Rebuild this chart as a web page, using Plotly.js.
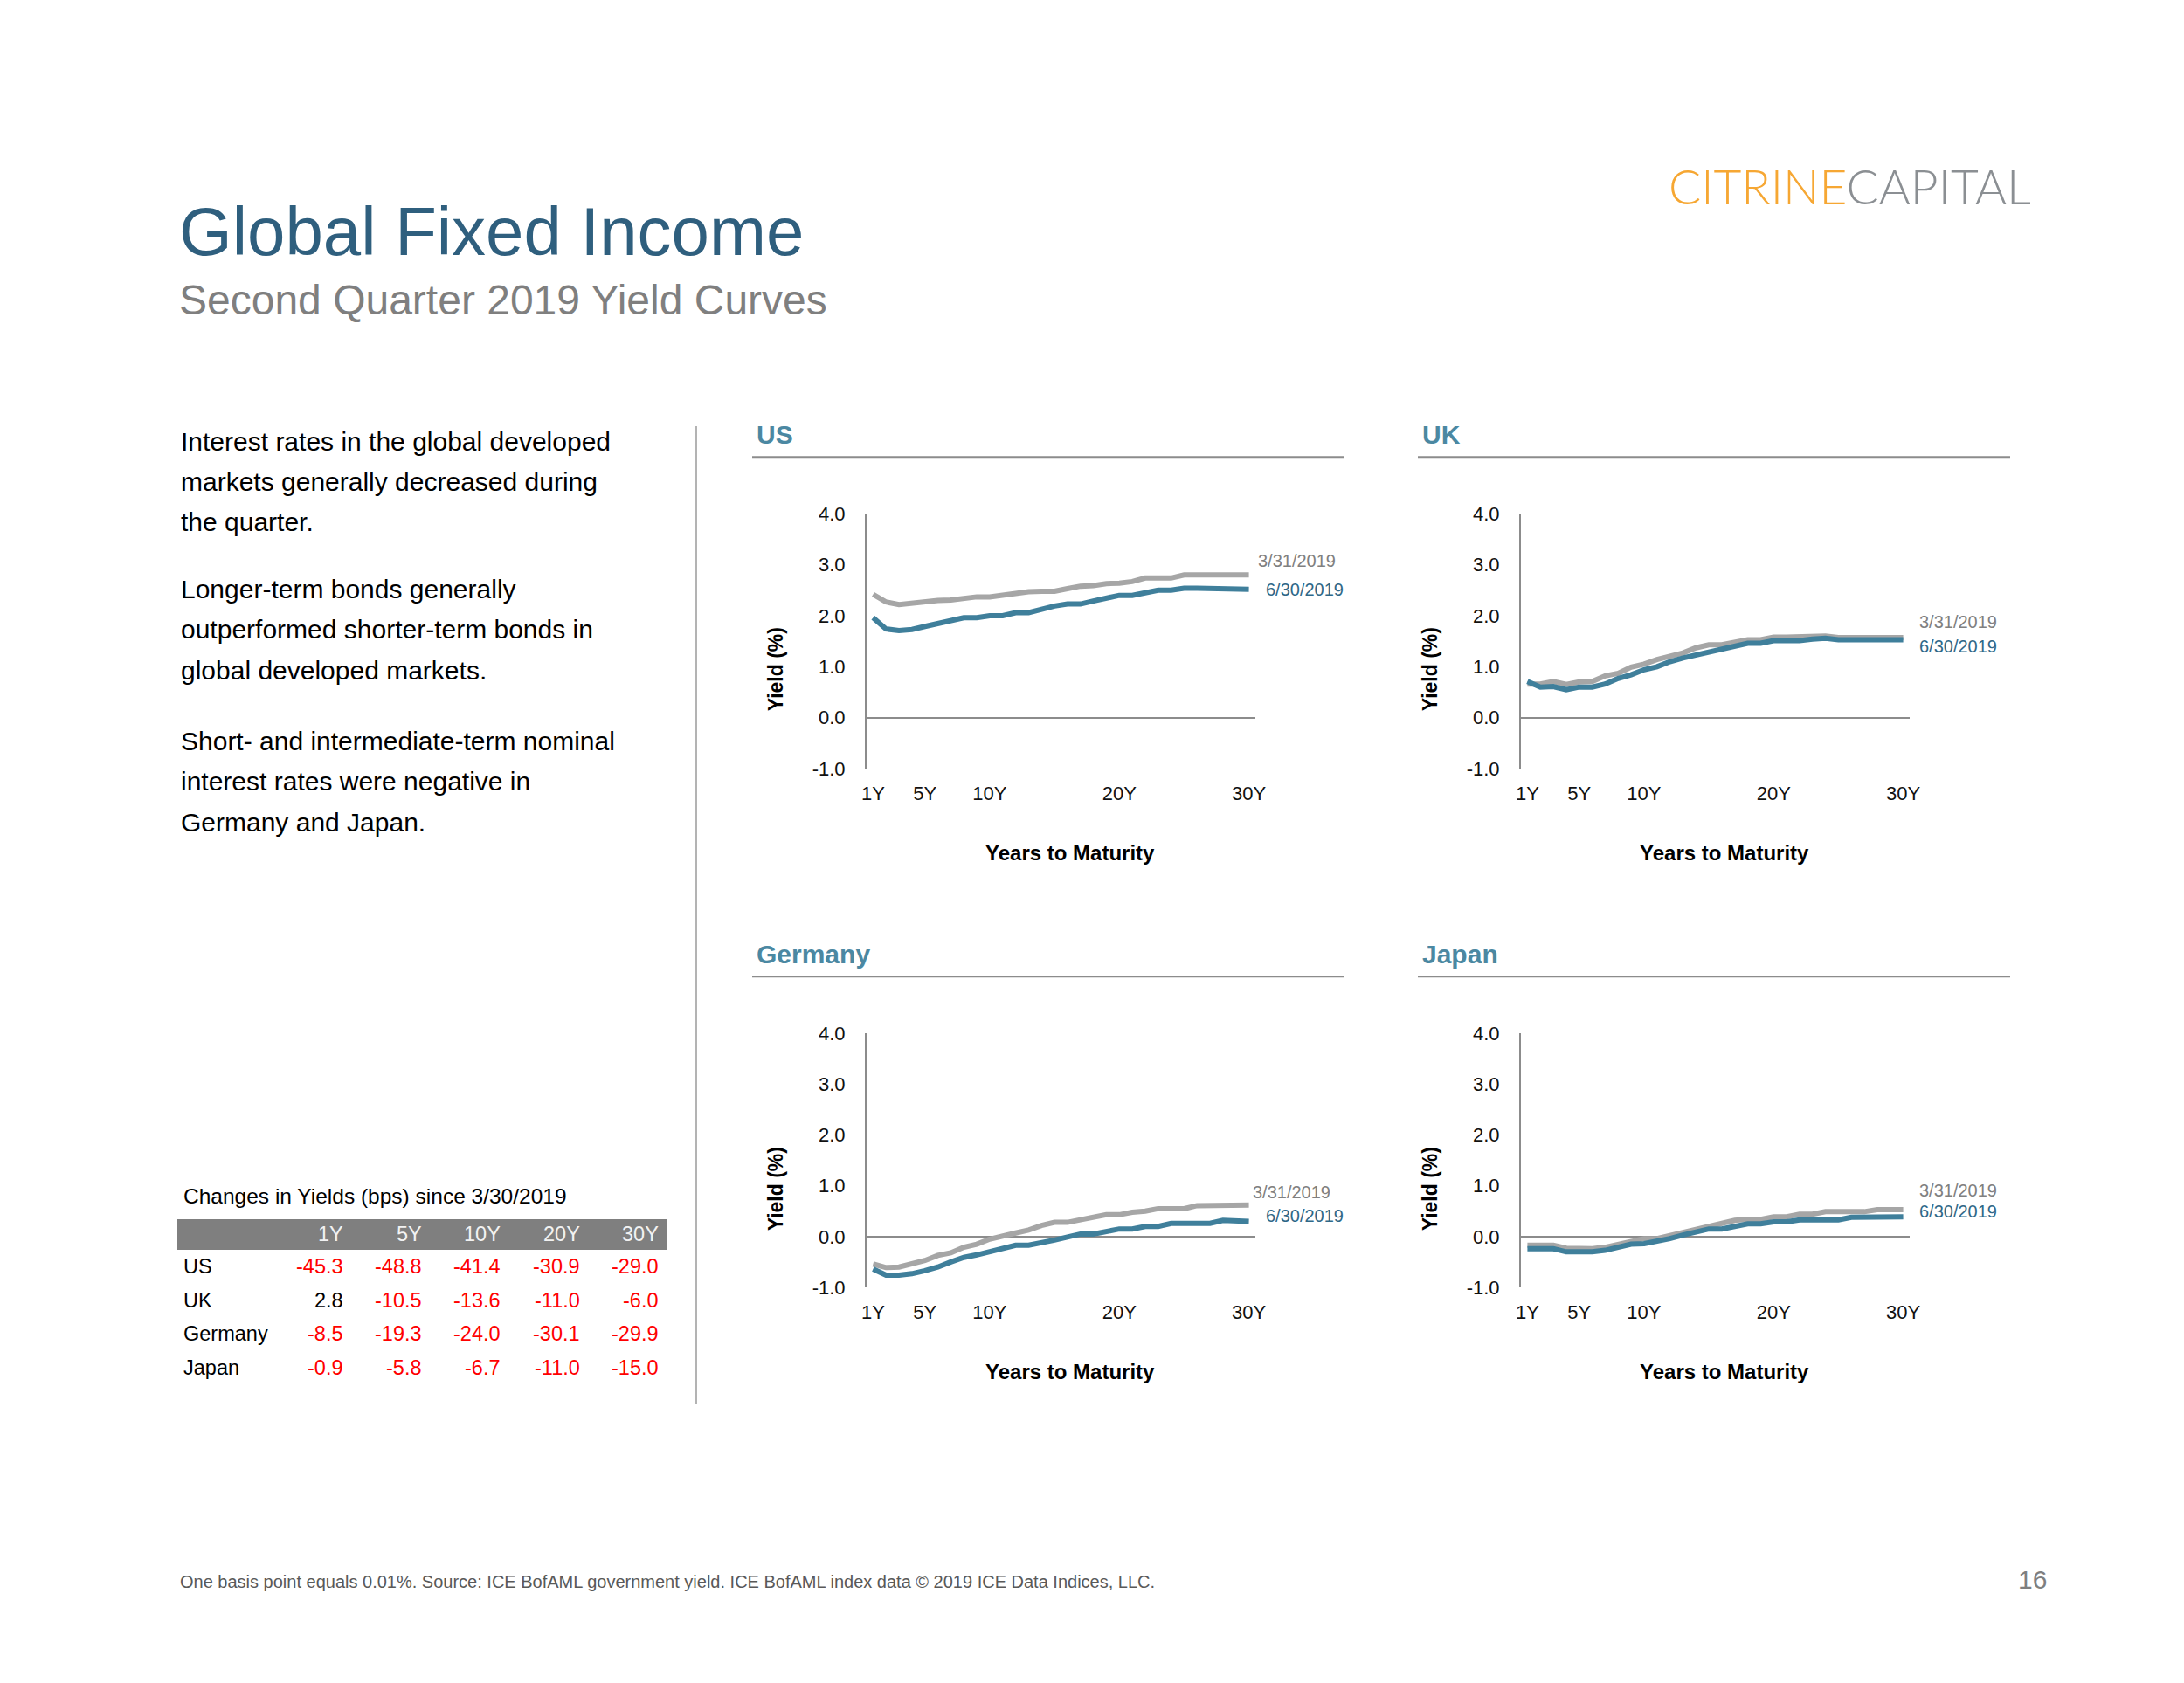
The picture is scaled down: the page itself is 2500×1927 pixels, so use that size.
<!DOCTYPE html>
<html>
<head>
<meta charset="utf-8">
<script src="https://cdn.plot.ly/plotly-3.0.1.min.js"></script>
<style>
html, body { margin: 0; padding: 0; background: #ffffff; }
#chart { width: 2500px; height: 1927px; }
</style>
</head>
<body>
<div id="chart"></div>
<script>
// ---------- DATA ----------
const maturities = [1,2,3,4,5,6,7,8,9,10,11,12,13,14,15,16,17,18,19,20,21,22,23,24,25,26,27,28,29,30];
const tickValues = [1, 5, 10, 20, 30];
const tickLabels = ['1Y', '5Y', '10Y', '20Y', '30Y'];
const yTickValues = [-1, 0, 1, 2, 3, 4];
const yTickLabels = ['-1.0', '0.0', '1.0', '2.0', '3.0', '4.0'];

const usMar = [2.42, 2.27, 2.22, 2.25, 2.27, 2.30, 2.31, 2.34, 2.37, 2.37, 2.41, 2.43, 2.47, 2.48, 2.48, 2.53, 2.58, 2.59, 2.63, 2.64, 2.67, 2.74, 2.74, 2.74, 2.80, 2.80, 2.81, 2.82, 2.82, 2.80];
const usJun = [1.96, 1.74, 1.71, 1.73, 1.79, 1.85, 1.90, 1.96, 1.96, 2.00, 2.00, 2.06, 2.06, 2.13, 2.19, 2.23, 2.23, 2.29, 2.34, 2.40, 2.40, 2.46, 2.50, 2.50, 2.54, 2.54, 2.54, 2.54, 2.54, 2.52];
const ukMar = [0.66, 0.66, 0.71, 0.65, 0.70, 0.71, 0.82, 0.87, 0.99, 1.05, 1.14, 1.20, 1.27, 1.37, 1.43, 1.43, 1.49, 1.53, 1.53, 1.58, 1.58, 1.58, 1.58, 1.60, 1.57, 1.57, 1.57, 1.57, 1.57, 1.57];
const ukJun = [0.71, 0.60, 0.61, 0.55, 0.60, 0.60, 0.66, 0.77, 0.84, 0.94, 1.00, 1.10, 1.17, 1.23, 1.29, 1.35, 1.41, 1.46, 1.46, 1.51, 1.51, 1.51, 1.54, 1.56, 1.53, 1.53, 1.53, 1.53, 1.53, 1.53];
const deMar = [-0.54, -0.61, -0.60, -0.54, -0.47, -0.37, -0.32, -0.21, -0.15, -0.05, 0.00, 0.07, 0.13, 0.22, 0.28, 0.28, 0.33, 0.38, 0.43, 0.43, 0.48, 0.50, 0.55, 0.55, 0.55, 0.61, 0.61, 0.61, 0.61, 0.62];
const deJun = [-0.64, -0.76, -0.76, -0.73, -0.67, -0.60, -0.50, -0.41, -0.36, -0.30, -0.25, -0.17, -0.17, -0.13, -0.07, -0.01, 0.05, 0.05, 0.10, 0.15, 0.15, 0.20, 0.20, 0.26, 0.26, 0.26, 0.26, 0.32, 0.32, 0.30];
const jpMar = [-0.17, -0.17, -0.17, -0.23, -0.24, -0.24, -0.21, -0.15, -0.08, -0.04, -0.04, 0.02, 0.09, 0.16, 0.22, 0.28, 0.32, 0.34, 0.34, 0.39, 0.39, 0.44, 0.44, 0.49, 0.49, 0.49, 0.49, 0.53, 0.53, 0.53];
const jpJun = [-0.24, -0.24, -0.24, -0.30, -0.30, -0.30, -0.27, -0.21, -0.15, -0.14, -0.10, -0.04, 0.03, 0.09, 0.15, 0.15, 0.20, 0.25, 0.25, 0.29, 0.29, 0.33, 0.33, 0.33, 0.33, 0.38, 0.38, 0.38, 0.38, 0.39];

const marketNames = ['US', 'UK', 'Germany', 'Japan'];
const seriesNames = ['3/31/2019', '6/30/2019'];

const tableTitle = 'Changes in Yields (bps) since 3/30/2019';
const tableTenors = ['1Y', '5Y', '10Y', '20Y', '30Y'];
const tableCountries = ['US', 'UK', 'Germany', 'Japan'];
const chgUS = [-45.3, -48.8, -41.4, -30.9, -29.0];
const chgUK = [2.8, -10.5, -13.6, -11.0, -6.0];
const chgDE = [-8.5, -19.3, -24.0, -30.1, -29.9];
const chgJP = [-0.9, -5.8, -6.7, -11.0, -15.0];

const pageTitle = 'Global Fixed Income';
const pageSubtitle = 'Second Quarter 2019 Yield Curves';
const bodyLines = [
  ['Interest rates in the global developed', 'markets generally decreased during', 'the quarter.'],
  ['Longer-term bonds generally', 'outperformed shorter-term bonds in', 'global developed markets.'],
  ['Short- and intermediate-term nominal', 'interest rates were negative in', 'Germany and Japan.']
];
const footerText = 'One basis point equals 0.01%. Source: ICE BofAML government yield. ICE BofAML index data \u00A9 2019 ICE Data Indices, LLC.';
const pageNumber = '16';

// ---------- LAYOUT HELPERS ----------
const W = 2500, H = 1927;
const px = x => x / W;
const py = y => 1 - y / H;
const FONT = 'Liberation Sans, Arial, Helvetica, sans-serif';
const GRAY_LINE = '#a6a6a6';
const BLUE_LINE = '#3f7f9b';
const GRAY_TXT = '#808080';
const BLUE_TXT = '#2f6888';
const AXIS_CLR = '#8c8c8c';
const SECTION_CLR = '#4b88a2';

// panel geometry (pixels)
const panels = [
  {name: marketNames[0], mar: usMar, jun: usJun, x0: 992, x1: 1437, y0: 588.3, y1: 880, titleY: 497, lineY: 523.3, titleX: 864, lineX0: 861, lineX1: 1539,
   lblMar: [1438, 642], lblJun: [1447, 675]},
  {name: marketNames[1], mar: ukMar, jun: ukJun, x0: 1741, x1: 2186, y0: 588.3, y1: 880, titleY: 497, lineY: 523.3, titleX: 1626, lineX0: 1623, lineX1: 2301,
   lblMar: [2195, 712], lblJun: [2195, 740]},
  {name: marketNames[2], mar: deMar, jun: deJun, x0: 992, x1: 1437, y0: 1183.3, y1: 1474, titleY: 1092, lineY: 1118.3, titleX: 864, lineX0: 861, lineX1: 1539,
   lblMar: [1432, 1365], lblJun: [1447, 1392]},
  {name: marketNames[3], mar: jpMar, jun: jpJun, x0: 1741, x1: 2186, y0: 1183.3, y1: 1474, titleY: 1092, lineY: 1118.3, titleX: 1626, lineX0: 1623, lineX1: 2301,
   lblMar: [2195, 1363], lblJun: [2195, 1387]}
];

const traces = [];
const layout = {
  width: W, height: H,
  margin: {l: 0, r: 0, t: 0, b: 0},
  paper_bgcolor: '#ffffff',
  plot_bgcolor: '#ffffff',
  showlegend: false,
  font: {family: FONT, color: '#000000'},
  annotations: [],
  shapes: []
};

panels.forEach((p, i) => {
  const n = i + 1;
  const xa = 'xaxis' + (n === 1 ? '' : n);
  const ya = 'yaxis' + (n === 1 ? '' : n);
  const xr = 'x' + (n === 1 ? '' : n);
  const yr = 'y' + (n === 1 ? '' : n);
  layout[xa] = {
    domain: [px(p.x0), px(p.x1)], range: [0.5, 30.5], anchor: yr,
    tickmode: 'array', tickvals: tickValues, ticktext: tickLabels,
    showgrid: false, zeroline: false, showline: false, ticks: '',
    ticklabelstandoff: 13,
    tickfont: {family: FONT, size: 22, color: '#111111'}, fixedrange: true
  };
  layout[ya] = {
    domain: [py(p.y1), py(p.y0)], range: [-1, 4], anchor: xr,
    tickmode: 'array', tickvals: yTickValues, ticktext: yTickLabels,
    showgrid: false, zeroline: true, zerolinecolor: AXIS_CLR, zerolinewidth: 2,
    showline: true, linecolor: AXIS_CLR, linewidth: 2, ticks: '',
    ticklabelstandoff: 18,
    tickfont: {family: FONT, size: 22, color: '#111111'}, fixedrange: true
  };
  traces.push({x: maturities, y: p.mar, xaxis: xr, yaxis: yr, type: 'scatter', mode: 'lines',
    name: seriesNames[0], line: {color: GRAY_LINE, width: 6}, hoverinfo: 'skip'});
  traces.push({x: maturities, y: p.jun, xaxis: xr, yaxis: yr, type: 'scatter', mode: 'lines',
    name: seriesNames[1], line: {color: BLUE_LINE, width: 6}, hoverinfo: 'skip'});

  // section title + underline
  layout.annotations.push({xref: 'paper', yref: 'paper', x: px(p.titleX), y: py(p.titleY), xanchor: 'left', yanchor: 'middle',
    text: '<b>' + p.name + '</b>', showarrow: false, font: {family: FONT, size: 30, color: SECTION_CLR}});
  layout.shapes.push({type: 'line', xref: 'paper', yref: 'paper', x0: px(p.lineX0), x1: px(p.lineX1), y0: py(p.lineY), y1: py(p.lineY),
    line: {color: AXIS_CLR, width: 2}});
  // series labels
  layout.annotations.push({xref: 'paper', yref: 'paper', x: px(p.lblMar[0]), y: py(p.lblMar[1]), xanchor: 'left', yanchor: 'middle',
    text: seriesNames[0], showarrow: false, font: {family: FONT, size: 20, color: GRAY_TXT}});
  layout.annotations.push({xref: 'paper', yref: 'paper', x: px(p.lblJun[0]), y: py(p.lblJun[1]), xanchor: 'left', yanchor: 'middle',
    text: seriesNames[1], showarrow: false, font: {family: FONT, size: 20, color: BLUE_TXT}});
  // axis titles
  layout.annotations.push({xref: 'paper', yref: 'paper', x: px(p.x0 - 104), y: py(p.y0 + 178), xanchor: 'center', yanchor: 'middle',
    text: '<b>Yield (%)</b>', textangle: -90, showarrow: false, font: {family: FONT, size: 23, color: '#000000'}});
  layout.annotations.push({xref: 'paper', yref: 'paper', x: px(p.x0 + 233), y: py(p.y1 + 96), xanchor: 'center', yanchor: 'middle',
    text: '<b>Years to Maturity</b>', showarrow: false, font: {family: FONT, size: 24, color: '#000000'}});
});

// ---------- page texts ----------
layout.annotations.push({xref: 'paper', yref: 'paper', x: px(203), y: py(265), xanchor: 'left', yanchor: 'middle',
  text: pageTitle, showarrow: false, font: {family: FONT, size: 78, color: '#2f5f7e'}});
layout.annotations.push({xref: 'paper', yref: 'paper', x: px(203), y: py(344), xanchor: 'left', yanchor: 'middle',
  text: pageSubtitle, showarrow: false, font: {family: FONT, size: 48, color: '#7f7f7f'}});
layout.annotations.push({xref: 'paper', yref: 'paper', x: px(2327), y: py(213), xanchor: 'right', yanchor: 'middle',
  text: '<span style="color:#f6a733">CITRINE</span><span style="color:#8b8f93">CAPITAL</span>', showarrow: false,
  font: {family: 'Lato, Open Sans, sans-serif', size: 55, weight: 300, color: '#8b8f93'}});

const paraTop = [505, 674, 848];
bodyLines.forEach((para, pi) => {
  para.forEach((line, li) => {
    layout.annotations.push({xref: 'paper', yref: 'paper', x: px(205), y: py(paraTop[pi] + li * 46.5), xanchor: 'left', yanchor: 'middle',
      text: line, showarrow: false, font: {family: FONT, size: 30, color: '#000000'}});
  });
});

// separator
layout.shapes.push({type: 'line', xref: 'paper', yref: 'paper', x0: px(797), x1: px(797), y0: py(488), y1: py(1607),
  line: {color: '#b3b3b3', width: 2}});

// ---------- table ----------
layout.annotations.push({xref: 'paper', yref: 'paper', x: px(208), y: py(1369), xanchor: 'left', yanchor: 'middle',
  text: tableTitle, showarrow: false, font: {family: FONT, size: 24.5, color: '#000000'}});
layout.shapes.push({type: 'rect', xref: 'paper', yref: 'paper', x0: px(203), x1: px(764), y0: py(1431), y1: py(1396),
  fillcolor: '#7f7f7f', line: {width: 0}});
const colRight = [395, 485, 575, 666, 756];
tableTenors.forEach((t, ci) => {
  layout.annotations.push({xref: 'paper', yref: 'paper', x: px(colRight[ci]), y: py(1413), xanchor: 'right', yanchor: 'middle',
    text: t, showarrow: false, font: {family: FONT, size: 23.5, color: '#f2f2f2'}});
});
const tableRows = [chgUS, chgUK, chgDE, chgJP];
const rowY = [1450, 1488.5, 1527, 1565.5];
tableCountries.forEach((c, ri) => {
  layout.annotations.push({xref: 'paper', yref: 'paper', x: px(208), y: py(rowY[ri]), xanchor: 'left', yanchor: 'middle',
    text: c, showarrow: false, font: {family: FONT, size: 23.5, color: '#000000'}});
  tableRows[ri].forEach((v, ci) => {
    layout.annotations.push({xref: 'paper', yref: 'paper', x: px(colRight[ci]), y: py(rowY[ri]), xanchor: 'right', yanchor: 'middle',
      text: v.toFixed(1), showarrow: false, font: {family: FONT, size: 23.5, color: v < 0 ? '#ff0000' : '#000000'}});
  });
});

// ---------- footer ----------
layout.annotations.push({xref: 'paper', yref: 'paper', x: px(204), y: py(1811), xanchor: 'left', yanchor: 'middle',
  text: footerText, showarrow: false, font: {family: FONT, size: 20, color: '#595959'}});
layout.annotations.push({xref: 'paper', yref: 'paper', x: px(2345), y: py(1808), xanchor: 'right', yanchor: 'middle',
  text: pageNumber, showarrow: false, font: {family: FONT, size: 30, color: '#7f7f7f'}});

Plotly.newPlot('chart', traces, layout, {staticPlot: true, displayModeBar: false});
</script>
</body>
</html>
